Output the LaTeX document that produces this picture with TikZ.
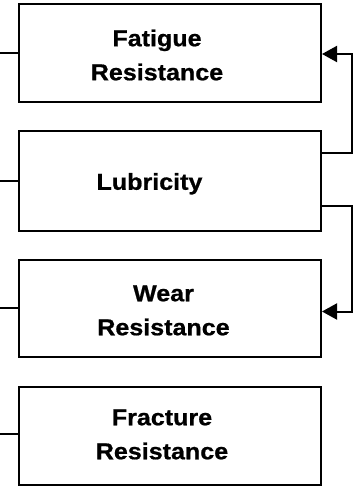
\documentclass[tikz,border=0pt]{standalone}
\usepackage{fontspec}
\setmainfont{Liberation Sans}[FakeStretch=1.09,FakeBold=0.8]
\usetikzlibrary{arrows.meta,calc}
\begin{document}
\begin{tikzpicture}[x=1pt,y=1pt,
  box/.style={draw=black, line width=2pt, fill=white, minimum width=302.5pt, inner sep=0pt},
  lbl/.style={inner sep=0pt, align=center, text height=16.5pt, text depth=0pt,
    font=\fontsize{23}{34}\selectfont\bfseries},
  lbltwo/.style={lbl, text height=50.5pt},
  wire/.style={draw=black, line width=2pt},
  arr/.style={wire, -{Triangle[length=15pt,width=16pt]}}]
\useasboundingbox (0,0) rectangle (355,-487);
\fill[white] (0,0) rectangle (355,-487);
\node[box, minimum height=97.5pt] (b1) at (169.75,-53) {};
\node[box, minimum height=99.5pt] (b2) at (169.75,-181) {};
\node[box, minimum height=97pt] (b3) at (169.75,-308.5) {};
\node[box, minimum height=98pt] (b4) at (169.75,-436) {};
\node[lbltwo] (t1) at (157,-55) {Fatigue\\Resistance};
\node[lbl] (t2) at (149.5,-181.5) {Lubricity};
\node[lbltwo] (t3) at (163.5,-310) {Wear\\Resistance};
\node[lbltwo] (t4) at (162,-434) {Fracture\\Resistance};
\coordinate (l1) at (0,-53);
\coordinate (l2) at (0,-181);
\coordinate (l3) at (0,-308);
\coordinate (l4) at (0,-434);
\draw[wire] (l1) -- (b1.west |- l1);
\draw[wire] (l2) -- (b2.west |- l2);
\draw[wire] (l3) -- (b3.west |- l3);
\draw[wire] (l4) -- (b4.west |- l4);
\coordinate (s1) at (321,-153);
\coordinate (e1) at (352,-54);
\coordinate (s2) at (321,-206);
\coordinate (e2) at (352,-311.5);
\draw[arr] (b2.east |- s1) -| (e1) -- (b1.east |- e1);
\draw[arr] (b2.east |- s2) -| (e2) -- (b3.east |- e2);
\end{tikzpicture}
\end{document}
